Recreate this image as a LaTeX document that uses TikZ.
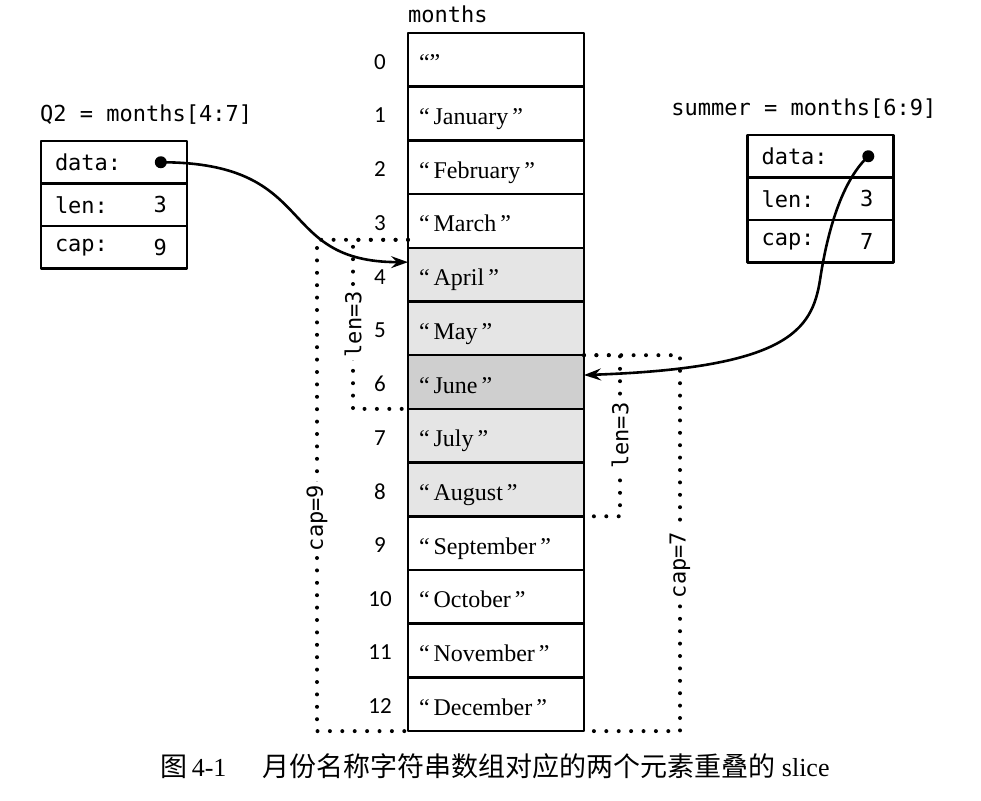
\documentclass[tikz,border=0pt]{standalone}
\usepackage{fontspec}
\setmainfont{Liberation Serif}
\setmonofont{DejaVu Sans Mono}
\newfontfamily\idxfont{Carlito}
\newfontfamily\cjk{Noto Sans CJK SC}
\usepackage{tikz}
\usetikzlibrary{positioning}
\usetikzlibrary{arrows.meta}

\tikzset{
  cell/.style={draw, line width=2.5pt, outer sep=0pt, minimum height=53.7pt,
    text width=154pt, inner xsep=11pt, text height=24pt, text depth=2pt,
    align=left, font=\fontsize{24}{26}\selectfont},
  field/.style={draw, line width=2.5pt, outer sep=0pt, minimum height=42.5pt,
    text width=118pt, inner xsep=14pt, align=left, font=\fontsize{22}{26}\selectfont\ttfamily},
  mono/.style={inner sep=2pt, font=\fontsize{22}{26}\selectfont\ttfamily},
  idx/.style={font=\fontsize{23}{26}\selectfont\idxfont},
  ptr/.style={circle, fill=black, inner sep=0pt, minimum size=12pt},
  pointer/.style={line width=2.6pt, -{Stealth[length=17pt, width=12pt, inset=6pt]}},
  dots/.style={line width=4pt, line cap=round, dash pattern=on 0pt off 12.4pt},
  bracelabel/.style={fill=white, rotate=90, inner sep=3pt, font=\fontsize{22}{24}\selectfont\ttfamily},
}

\begin{document}
\begin{tikzpicture}[x=1pt, y=-1pt, line join=round]
  \useasboundingbox (0,0) rectangle (981,800);

  % the months array
  \foreach \i/\txt/\shade in {0/{“”}/white, 1/{“\,January\,”}/white, 2/{“\,February\,”}/white,
      3/{“\,March\,”}/white, 4/{“\,April\,”}/gray!20, 5/{“\,May\,”}/gray!20,
      6/{“\,June\,”}/gray!38, 7/{“\,July\,”}/gray!20, 8/{“\,August\,”}/gray!20,
      9/{“\,September\,”}/white, 10/{“\,October\,”}/white, 11/{“\,November\,”}/white,
      12/{“\,December\,”}/white}{
    \node[cell, fill=\shade] (m\i) at (496, 59.85+53.7*\i) {\txt};
    \node[idx] (i\i) at ([xshift=-28pt, yshift=-2pt]m\i.west) {\i};
  }
  \node[mono, above right=8pt and -2pt of m0.north west] (mname) {months};

  % slice Q2
  \node[field] (q2data) at (114, 162.25) {data:};
  \node[field, below=0pt of q2data] (q2len) {len:};
  \node[field, below=0pt of q2len] (q2cap) {cap:};
  \node[mono, left=18pt of q2len.east] (q2lenv) {3};
  \node[mono, left=18pt of q2cap.east] (q2capv) {9};
  \node[ptr, left=20pt of q2data.east] (q2ptr) {};
  \node[mono, above right=14pt and -3pt of q2data.north west] (q2name) {Q2 = months[4:7]};

  % slice summer
  \node[field] (sdata) at (820.5, 156.25) {data:};
  \node[field, below=0pt of sdata] (slen) {len:};
  \node[field, below=0pt of slen] (scap) {cap:};
  \node[mono, left=18pt of slen.east] (slenv) {3};
  \node[mono, left=18pt of scap.east] (scapv) {7};
  \node[ptr, left=19pt of sdata.east] (sptr) {};
  \node[mono, above left=14pt and -45pt of sdata.north east] (sname) {summer = months[6:9]};

  % pointers into the array
  \coordinate (q2end) at ([yshift=12.5pt]m4.west);
  \coordinate (send) at ([yshift=7pt]m6.east);
  \coordinate (sbend) at (820, 280);
  \draw[pointer] (q2ptr.center) .. controls +(160,0) and +(-135,0) .. (q2end);
  \draw[pointer] (sptr.center) .. controls +(-29,27) and +(6,-40) .. (sbend)
    .. controls +(-8,50) and +(204,-7) .. (send);

  % len and cap of Q2
  \coordinate (q2top) at ([yshift=8pt]m4.north west);
  \draw[dots] (q2top) -- ++(-55,0) |- node[bracelabel, pos=0.25] {len=3} (m6.south west);
  \draw[dots] (q2top) -- ++(-91,0) |- node[bracelabel, pos=0.283] {cap=9} (m12.south west);

  % len and cap of summer
  \draw[dots] (m6.north east) -- ++(36,0) |- node[bracelabel, pos=0.25] {len=3} (m8.south east);
  \draw[dots] (m6.north east) -- ++(96,0) |- node[bracelabel, pos=0.279] {cap=7} (m12.south east);

  % caption
  \node[font=\fontsize{26}{30}\selectfont] (caption) at (495, 766)
    {{\cjk\fontsize{27}{30}\selectfont 图}\,4-1\hspace{36pt}{\cjk\fontsize{27}{30}\selectfont 月份名称字符串数组对应的两个元素重叠的} slice};
\end{tikzpicture}
\end{document}
